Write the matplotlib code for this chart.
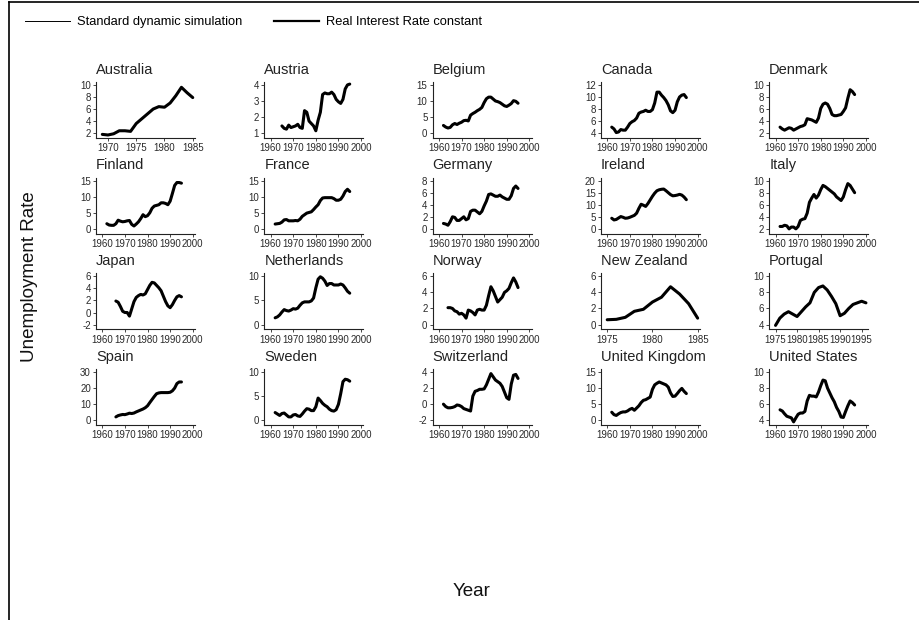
import matplotlib
matplotlib.use("Agg")
import matplotlib.pyplot as plt
from matplotlib.lines import Line2D

plt.rcParams['font.family'] = ['Liberation Sans', 'DejaVu Sans']

# ---- unemployment rate series (percent) ----
years_main = list(range(1962, 1996))

australia_years = list(range(1969, 1986))
australia_rate = [1.8, 1.7, 1.9, 2.4, 2.4, 2.3, 3.6, 4.4, 5.2, 6.0, 6.4, 6.3, 7.0, 8.2, 9.6, 8.7, 7.9]

austria_years = list(range(1965, 1996))
austria_rate = [1.45, 1.3, 1.25, 1.5, 1.35, 1.4, 1.45, 1.55, 1.35, 1.3, 2.4, 2.3, 1.75, 1.6, 1.45,
                1.15, 1.8, 2.3, 3.4, 3.5, 3.45, 3.45, 3.55, 3.4, 3.1, 2.95, 2.85, 3.1, 3.75, 4.0, 4.05]

belgium_rate = [2.4, 1.9, 1.6, 1.8, 2.6, 3.0, 2.7, 3.1, 3.4, 3.9, 4.0, 3.8, 5.6, 6.1, 6.5, 7.0, 7.4,
                8.0, 9.5, 10.7, 11.2, 11.2, 10.6, 10.0, 9.8, 9.5, 9.0, 8.5, 8.3, 8.7, 9.2, 10.1, 9.9, 9.3]

canada_rate = [5.0, 4.7, 4.1, 4.2, 4.6, 4.5, 4.5, 5.0, 5.6, 5.9, 6.1, 6.5, 7.3, 7.5, 7.6, 7.8, 7.6,
               7.6, 7.9, 9.0, 10.8, 10.8, 10.3, 9.9, 9.4, 8.7, 7.7, 7.4, 7.8, 9.2, 10.0, 10.3, 10.4, 9.9]

denmark_rate = [3.0, 2.7, 2.5, 2.7, 2.9, 2.8, 2.5, 2.7, 2.9, 3.1, 3.2, 3.4, 4.4, 4.3, 4.2, 4.0, 3.8,
                4.5, 6.1, 6.8, 7.0, 6.8, 6.1, 5.1, 4.9, 4.9, 5.0, 5.1, 5.6, 6.2, 7.8, 9.2, 8.9, 8.4]

finland_rate = [1.6, 1.2, 1.1, 1.1, 1.6, 2.7, 2.4, 2.2, 2.3, 2.5, 2.6, 1.4, 0.9, 1.5, 2.2, 3.2, 4.4,
                3.8, 4.1, 5.0, 6.4, 7.1, 7.3, 7.5, 8.1, 8.1, 7.9, 7.5, 8.6, 11.0, 13.5, 14.4, 14.4, 14.2]

france_rate = [1.5, 1.6, 1.7, 2.1, 2.8, 2.9, 2.5, 2.5, 2.5, 2.6, 2.5, 3.0, 3.9, 4.4, 4.9, 5.1, 5.3,
               6.0, 6.8, 7.5, 8.8, 9.6, 9.7, 9.7, 9.7, 9.7, 9.4, 8.9, 8.9, 9.2, 10.2, 11.6, 12.3, 11.6]

germany_rate = [0.9, 0.8, 0.6, 1.2, 2.0, 1.9, 1.4, 1.4, 1.7, 2.0, 1.5, 1.7, 2.9, 3.1, 3.1, 2.8, 2.5,
                2.9, 3.8, 4.6, 5.7, 5.8, 5.6, 5.4, 5.4, 5.6, 5.3, 5.1, 4.9, 4.9, 5.5, 6.7, 7.1, 6.7]

ireland_rate = [4.4, 3.7, 3.9, 4.5, 5.1, 4.8, 4.4, 4.5, 4.8, 5.2, 5.6, 6.5, 8.5, 10.2, 9.8, 9.3, 10.5,
                12.0, 13.5, 14.8, 15.8, 16.2, 16.4, 16.5, 15.8, 15.0, 14.2, 13.7, 13.8, 14.0, 14.3, 14.0, 13.2, 12.1]

italy_rate = [2.4, 2.4, 2.6, 2.5, 2.0, 2.3, 2.3, 2.0, 2.4, 3.4, 3.6, 3.7, 4.6, 6.4, 7.1, 7.7, 7.1,
              7.6, 8.5, 9.2, 9.0, 8.7, 8.4, 8.1, 7.8, 7.3, 7.0, 6.7, 7.3, 8.5, 9.5, 9.2, 8.6, 8.0]

japan_years = list(range(1966, 1996))
japan_rate = [1.9, 1.7, 1.0, 0.2, 0.0, 0.0, -0.6, 0.6, 1.8, 2.5, 2.8, 3.0, 2.9, 3.1, 3.8, 4.5, 5.0,
              4.9, 4.5, 4.1, 3.6, 2.7, 1.8, 1.1, 0.8, 1.3, 2.0, 2.6, 2.8, 2.6]

netherlands_rate = [1.4, 1.6, 2.0, 2.6, 3.1, 2.9, 2.8, 3.0, 3.3, 3.2, 3.4, 4.0, 4.5, 4.7, 4.7, 4.7, 4.9,
                    5.5, 7.6, 9.4, 9.9, 9.6, 9.0, 8.1, 8.5, 8.5, 8.2, 8.2, 8.2, 8.4, 8.2, 7.6, 6.9, 6.5]

norway_years = list(range(1964, 1996))
norway_rate = [2.1, 2.1, 2.0, 1.7, 1.6, 1.3, 1.4, 1.2, 0.8, 1.8, 1.7, 1.5, 1.2, 1.8, 1.9, 1.8, 1.8,
               2.4, 3.6, 4.7, 4.2, 3.5, 2.8, 3.1, 3.4, 4.0, 4.2, 4.5, 5.2, 5.8, 5.3, 4.6]

new_zealand_years = list(range(1975, 1986))
new_zealand_rate = [0.6, 0.65, 0.9, 1.65, 1.9, 2.8, 3.4, 4.7, 3.8, 2.6, 0.8]

portugal_years = list(range(1975, 1997))
portugal_rate = [3.9, 4.8, 5.3, 5.6, 5.3, 5.0, 5.6, 6.2, 6.7, 8.0, 8.6, 8.8, 8.3, 7.5, 6.6, 5.1, 5.4,
                 6.0, 6.5, 6.7, 6.9, 6.7]

spain_years = list(range(1966, 1996))
spain_rate = [2.1, 2.9, 3.3, 3.6, 3.5, 3.9, 4.4, 4.2, 4.5, 5.2, 5.8, 6.4, 7.0, 7.8, 9.0, 11.0, 12.9,
              14.8, 16.5, 17.0, 17.2, 17.2, 17.2, 17.2, 17.4, 18.3, 20.0, 22.8, 23.8, 23.8]

sweden_rate = [1.6, 1.3, 1.0, 1.4, 1.5, 1.1, 0.7, 0.7, 1.1, 1.2, 0.9, 0.8, 1.3, 1.9, 2.4, 2.3, 2.0,
               2.0, 2.8, 4.6, 4.1, 3.5, 3.1, 2.8, 2.3, 2.0, 1.9, 2.2, 3.3, 5.5, 8.0, 8.5, 8.4, 8.1]

switzerland_rate = [0.0, -0.3, -0.45, -0.45, -0.4, -0.3, -0.1, -0.15, -0.3, -0.55, -0.65, -0.75, -0.85,
                    1.0, 1.6, 1.7, 1.85, 1.85, 1.9, 2.4, 3.1, 3.8, 3.4, 3.0, 2.8, 2.6, 2.2, 1.5, 0.8,
                    0.6, 2.5, 3.6, 3.7, 3.2]

uk_rate = [2.5, 1.75, 1.5, 2.0, 2.4, 2.6, 2.6, 2.9, 3.4, 3.7, 3.1, 3.8, 4.5, 5.5, 6.2, 6.4, 6.8,
           7.2, 9.6, 11.0, 11.5, 11.9, 11.6, 11.3, 11.0, 10.3, 8.5, 7.4, 7.5, 8.3, 9.2, 9.9, 9.0, 8.3]

us_rate = [5.3, 5.15, 4.8, 4.5, 4.4, 4.3, 3.8, 4.3, 4.75, 4.9, 4.9, 5.1, 6.4, 7.1, 7.0, 7.0, 6.9,
           7.5, 8.3, 9.0, 8.9, 8.0, 7.4, 6.8, 6.3, 5.6, 5.1, 4.4, 4.35, 5.1, 5.8, 6.4, 6.2, 5.9]

# ---- tick labels ----
decades = [1960, 1970, 1980, 1990, 2000]
australia_xticks = [1970, 1975, 1980, 1985]
new_zealand_xticks = [1975, 1980, 1985]
portugal_xticks = [1975, 1980, 1985, 1990, 1995]

panels = [
    ("Australia", australia_years, australia_rate, australia_xticks, [2, 4, 6, 8, 10]),
    ("Austria", austria_years, austria_rate, decades, [1, 2, 3, 4]),
    ("Belgium", years_main, belgium_rate, decades, [0, 5, 10, 15]),
    ("Canada", years_main, canada_rate, decades, [4, 6, 8, 10, 12]),
    ("Denmark", years_main, denmark_rate, decades, [2, 4, 6, 8, 10]),
    ("Finland", years_main, finland_rate, decades, [0, 5, 10, 15]),
    ("France", years_main, france_rate, decades, [0, 5, 10, 15]),
    ("Germany", years_main, germany_rate, decades, [0, 2, 4, 6, 8]),
    ("Ireland", years_main, ireland_rate, decades, [0, 5, 10, 15, 20]),
    ("Italy", years_main, italy_rate, decades, [2, 4, 6, 8, 10]),
    ("Japan", japan_years, japan_rate, decades, [-2, 0, 2, 4, 6]),
    ("Netherlands", years_main, netherlands_rate, decades, [0, 5, 10]),
    ("Norway", norway_years, norway_rate, decades, [0, 2, 4, 6]),
    ("New Zealand", new_zealand_years, new_zealand_rate, new_zealand_xticks, [0, 2, 4, 6]),
    ("Portugal", portugal_years, portugal_rate, portugal_xticks, [4, 6, 8, 10]),
    ("Spain", spain_years, spain_rate, decades, [0, 10, 20, 30]),
    ("Sweden", years_main, sweden_rate, decades, [0, 5, 10]),
    ("Switzerland", years_main, switzerland_rate, decades, [-2, 0, 2, 4]),
    ("United Kingdom", years_main, uk_rate, decades, [0, 5, 10, 15]),
    ("United States", years_main, us_rate, decades, [4, 6, 8, 10]),
]

W, H = 920, 620
fig = plt.figure(figsize=(W / 100, H / 100), dpi=100)

ax_w, ax_h = 99, 56
col_left = 96
col_step = 168.3
row_bottom = 138
row_step = 95.7

for i, (name, yrs, vals, xt, yt) in enumerate(panels):
    r, c = divmod(i, 5)
    left = col_left + c * col_step
    bottom = row_bottom + r * row_step
    ax = fig.add_axes([left / W, 1 - bottom / H, ax_w / W, ax_h / H])
    ax.plot(yrs, vals, color='black', lw=0.7)
    ax.plot(yrs, vals, color='black', lw=2.2, solid_capstyle='round', solid_joinstyle='round')

    xlo, xhi = min(yrs[0], xt[0]), max(yrs[-1], xt[-1])
    xr = xhi - xlo
    ax.set_xlim(xlo - 0.07 * xr, xhi + 0.025 * xr)
    ylo, yhi = yt[0], yt[-1]
    yr = yhi - ylo
    ax.set_ylim(ylo - 0.10 * yr, yhi + 0.06 * yr)
    ax.set_xticks(xt)
    ax.set_yticks(yt)
    ax.set_xticklabels([str(v) for v in xt])
    ax.set_yticklabels([str(v) for v in yt])
    for s in ('top', 'right'):
        ax.spines[s].set_visible(False)
    for s in ('left', 'bottom'):
        ax.spines[s].set_linewidth(0.8)
        ax.spines[s].set_color('#222222')
    ax.tick_params(axis='both', length=2.5, width=0.6, pad=1.2, labelsize=7.0,
                   colors='#2a2a2a')
    ax.set_title(name, loc='left', fontsize=10.5, pad=6, color='#222222')

# legend along the top
handles = [Line2D([], [], color='black', lw=0.7), Line2D([], [], color='black', lw=1.6)]
fig.legend(handles, ["Standard dynamic simulation", "Real Interest Rate constant"],
           loc='center left', bbox_to_anchor=(25 / W, 1 - 22 / H), ncol=2, frameon=False,
           borderpad=0, borderaxespad=0, handlelength=3.5, handletextpad=0.55,
           columnspacing=2.4, prop={'size': 9.3})

fig.text(30 / W, 1 - 277 / H, "Unemployment Rate", rotation=90, ha='center', va='center',
         fontsize=13.5, color='#111111')
fig.text(472 / W, 1 - 591 / H, "Year", ha='center', va='center', fontsize=13.5, color='#111111')

# outer frame (top and left edges)
fig.add_artist(Line2D([9 / W, 1.0], [1 - 1.5 / H, 1 - 1.5 / H], transform=fig.transFigure,
                      color='black', lw=1.2))
fig.add_artist(Line2D([9 / W, 9 / W], [0.0, 1 - 1.5 / H], transform=fig.transFigure,
                      color='black', lw=1.2))

fig.savefig("out.png", dpi=100)
